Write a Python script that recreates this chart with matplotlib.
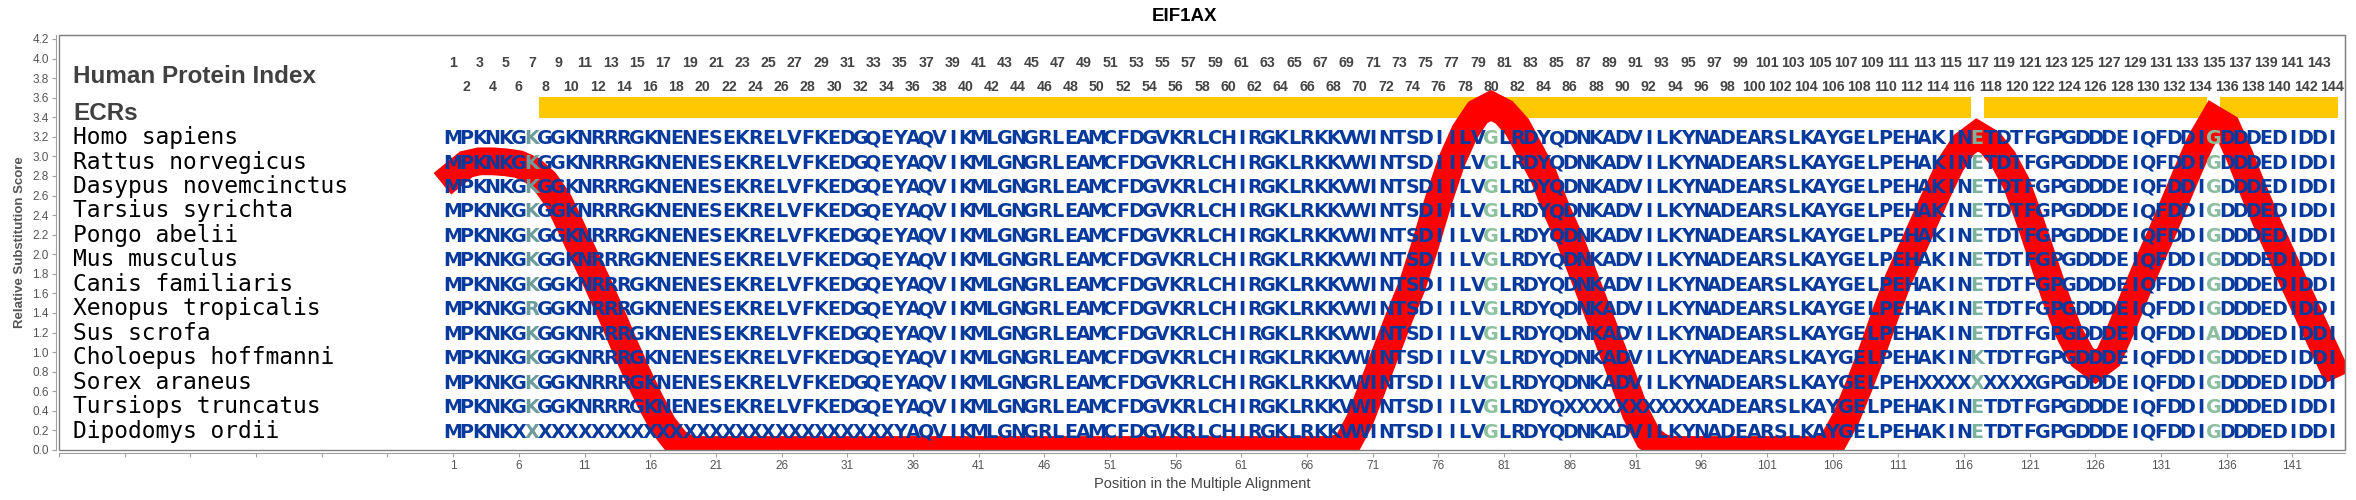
import matplotlib
matplotlib.use("Agg")
import matplotlib.pyplot as plt
from matplotlib.patches import Rectangle

# ---------------- data ----------------
title = "EIF1AX"
species = ["Homo sapiens", "Rattus norvegicus", "Dasypus novemcinctus", "Tarsius syrichta",
           "Pongo abelii", "Mus musculus", "Canis familiaris", "Xenopus tropicalis",
           "Sus scrofa", "Choloepus hoffmanni", "Sorex araneus", "Tursiops truncatus",
           "Dipodomys ordii"]

seq_homo = "MPKNKGKGGKNRRRGKNENESEKRELVFKEDGQEYAQVIKMLGNGRLEAMCFDGVKRLCHIRGKLRKKVWINTSDIILVGLRDYQDNKADVILKYNADEARSLKAYGELPEHAKINETDTFGPGDDDEIQFDDIGDDDEDIDDI"
seq_rattus = seq_homo
seq_dasypus = seq_homo
seq_tarsius = seq_homo
seq_pongo = seq_homo
seq_mus = seq_homo
seq_canis = seq_homo
seq_xenopus = "MPKNKGRGGKNRRRGKNENESEKRELVFKEDGQEYAQVIKMLGNGRLEAMCFDGVKRLCHIRGKLRKKVWINTSDIILVGLRDYQDNKADVILKYNADEARSLKAYGELPEHAKINETDTFGPGDDDEIQFDDIGDDDEDIDDI"
seq_sus = "MPKNKGKGGKNRRRGKNENESEKRELVFKEDGQEYAQVIKMLGNGRLEAMCFDGVKRLCHIRGKLRKKVWINTSDIILVGLRDYQDNKADVILKYNADEARSLKAYGELPEHAKINETDTFGPGDDDEIQFDDIADDDEDIDDI"
seq_choloepus = "MPKNKGKGGKNRRRGKNENESEKRELVFKEDGQEYAQVIKMLGNGRLEAMCFDGVKRLCHIRGKLRKKVWINTSDIILVSLRDYQDNKADVILKYNADEARSLKAYGELPEHAKINKTDTFGPGDDDEIQFDDIGDDDEDIDDI"
seq_sorex = "MPKNKGKGGKNRRRGKNENESEKRELVFKEDGQEYAQVIKMLGNGRLEAMCFDGVKRLCHIRGKLRKKVWINTSDIILVGLRDYQDNKADVILKYNADEARSLKAYGELPEHXXXXXXXXXGPGDDDEIQFDDIGDDDEDIDDI"
seq_tursiops = "MPKNKGKGGKNRRRGKNENESEKRELVFKEDGQEYAQVIKMLGNGRLEAMCFDGVKRLCHIRGKLRKKVWINTSDIILVGLRDYQXXXXXXXXXXXADEARSLKAYGELPEHAKINETDTFGPGDDDEIQFDDIGDDDEDIDDI"
seq_dipodomys = "MPKNKXXXXXXXXXXXXXXXXXXXXXXXXXXXXXYAQVIKMLGNGRLEAMCFDGVKRLCHIRGKLRKKVWINTSDIILVGLRDYQDNKADVILKYNADEARSLKAYGELPEHAKINETDTFGPGDDDEIQFDDIGDDDEDIDDI"

sequences = [seq_homo, seq_rattus, seq_dasypus, seq_tarsius, seq_pongo, seq_mus, seq_canis,
             seq_xenopus, seq_sus, seq_choloepus, seq_sorex, seq_tursiops, seq_dipodomys]

# relative substitution score per alignment position 1..144
score = [2.81, 2.92, 2.95, 2.95, 2.94, 2.92, 2.86, 2.74, 2.55, 2.27,
         1.98, 1.70, 1.40, 1.08, 0.78, 0.50, 0.25, 0.08, 0.00, 0.00,
         0.00, 0.00, 0.00, 0.00, 0.00, 0.00, 0.00, 0.00, 0.00, 0.00,
         0.00, 0.00, 0.00, 0.00, 0.00, 0.00, 0.00, 0.00, 0.00, 0.00,
         0.00, 0.00, 0.00, 0.00, 0.00, 0.00, 0.00, 0.00, 0.00, 0.00,
         0.00, 0.00, 0.00, 0.00, 0.00, 0.00, 0.00, 0.00, 0.00, 0.00,
         0.00, 0.00, 0.00, 0.00, 0.00, 0.00, 0.00, 0.00, 0.05, 0.30,
         0.65, 1.00, 1.35, 1.68, 2.10, 2.55, 2.95, 3.25, 3.45, 3.52,
         3.45, 3.30, 3.05, 2.80, 2.45, 2.15, 1.80, 1.45, 1.10, 0.75,
         0.38, 0.12, 0.02, 0.00, 0.00, 0.00, 0.00, 0.00, 0.00, 0.00,
         0.00, 0.00, 0.00, 0.00, 0.00, 0.08, 0.32, 0.65, 1.00, 1.38,
         1.74, 2.04, 2.34, 2.64, 2.92, 3.12, 3.22, 3.14, 2.97, 2.72,
         2.35, 1.95, 1.55, 1.20, 0.95, 0.85, 0.95, 1.25, 1.58, 1.90,
         2.20, 2.52, 2.84, 3.15, 3.38, 3.30, 3.00, 2.66, 2.34, 2.04,
         1.74, 1.45, 1.16, 0.87]
positions = list(range(1, len(score) + 1))

ecr_starts = [8, 118, 136]
ecr_ends = [116, 134, 144]

variable_columns = [7, 80, 117, 135]
variable_colors = ["#6c9c9c", "#8cc39e", "#7bb19f", "#8cbf9f"]

for s in sequences:
    assert len(s) == len(score), len(s)

# ---------------- figure ----------------
W, H = 2356, 500
fig = plt.figure(figsize=(W / 100, H / 100), dpi=100)
L, R, T, B = 59, 2345, 35, 450
ax = fig.add_axes([L / W, (H - B) / H, (R - L) / W, (B - T) / H])
ax.set_xlim(-29, 145)
ax.set_ylim(0, (B - T) / 97.86)
px = 1 / 97.86  # one pixel in y data units

blue = "#073a9c"
gray_txt = "#444444"

# ECR bars
for s0, e0 in zip(ecr_starts, ecr_ends):
    ax.broken_barh([(s0 - 0.5, e0 - s0 + 1)], (3.395, 0.212), facecolors="#ffc800",
                   edgecolor="none", zorder=1)

# red score line
ax.plot(positions, score, color="#ff0000", lw=20, solid_capstyle="projecting",
        solid_joinstyle="miter", zorder=2)

# human protein index
for p in positions:
    yy = 3.917 if p % 2 == 1 else 3.672
    ax.text(p, yy, str(p), ha="center", va="baseline", fontsize=10.2, fontweight="bold",
            family="Liberation Sans", color=gray_txt, zorder=4)

ax.text(-27.9, 3.747, "Human Protein Index", ha="left", va="baseline", fontsize=17.5,
        fontweight="bold", family="Liberation Sans", color="#404040", zorder=4)
ax.text(-27.9, 3.372, "ECRs", ha="left", va="baseline", fontsize=17.5,
        fontweight="bold", family="Liberation Sans", color="#404040", zorder=4)

# species & sequences
col_color = dict(zip(variable_columns, variable_colors))
for i, (name, seq) in enumerate(zip(species, sequences)):
    row_y = 3.2 - 0.25 * i
    base = row_y - 7.2 * px
    ax.text(-27.9, base, name, ha="left", va="baseline", fontsize=16.5,
            family="DejaVu Sans Mono", color="black", zorder=4)
    for p, ch in zip(positions, seq):
        ax.text(p, base, ch, ha="center", va="baseline", fontsize=13.8, fontweight="bold",
                family="DejaVu Sans", color=col_color.get(p, blue), zorder=4)

# axes styling
for side in ["top", "right"]:
    ax.spines[side].set_color("#808080")
for side in ["left", "bottom"]:
    ax.spines[side].set_position(("outward", 2.2))
    ax.spines[side].set_color("#a0a0a0")
ax.add_patch(Rectangle((0, 0), 1, 1, transform=ax.transAxes, fill=False,
                       edgecolor="#808080", lw=1.0, zorder=5, clip_on=False))

yt = [round(0.2 * k, 1) for k in range(22)]
ax.set_yticks(yt)
ax.set_yticklabels([f"{v:.1f}" for v in yt])
xt = list(range(-29, 145, 5))
ax.set_xticks(xt)
ax.set_xticklabels([str(t) if t >= 1 else "" for t in xt])
ax.tick_params(axis="both", direction="out", length=3, width=0.8, color="#a0a0a0",
               labelcolor="#555555", labelsize=8.5, pad=2.2)
for lab in ax.get_xticklabels() + ax.get_yticklabels():
    lab.set_family("Liberation Sans")

ax.set_xlabel("Position in the Multiple Alignment", fontsize=10.5, family="Liberation Sans",
              color=gray_txt)
ax.xaxis.set_label_coords(0.5, (B - 484) / (B - T))
ax.xaxis.label.set_va("center")
ax.set_ylabel("Relative Substitution Score", fontsize=9.5, fontweight="bold",
              family="Liberation Sans", color="#555555")
ax.yaxis.set_label_coords((20 - L) / (R - L), 0.5)
ax.yaxis.label.set_va("center")

fig.text(1185 / W, 1 - 20.7 / H, title, ha="center", va="baseline", fontsize=13.5,
         fontweight="bold", family="Liberation Sans", color="black")

fig.savefig("out.png", dpi=100)
